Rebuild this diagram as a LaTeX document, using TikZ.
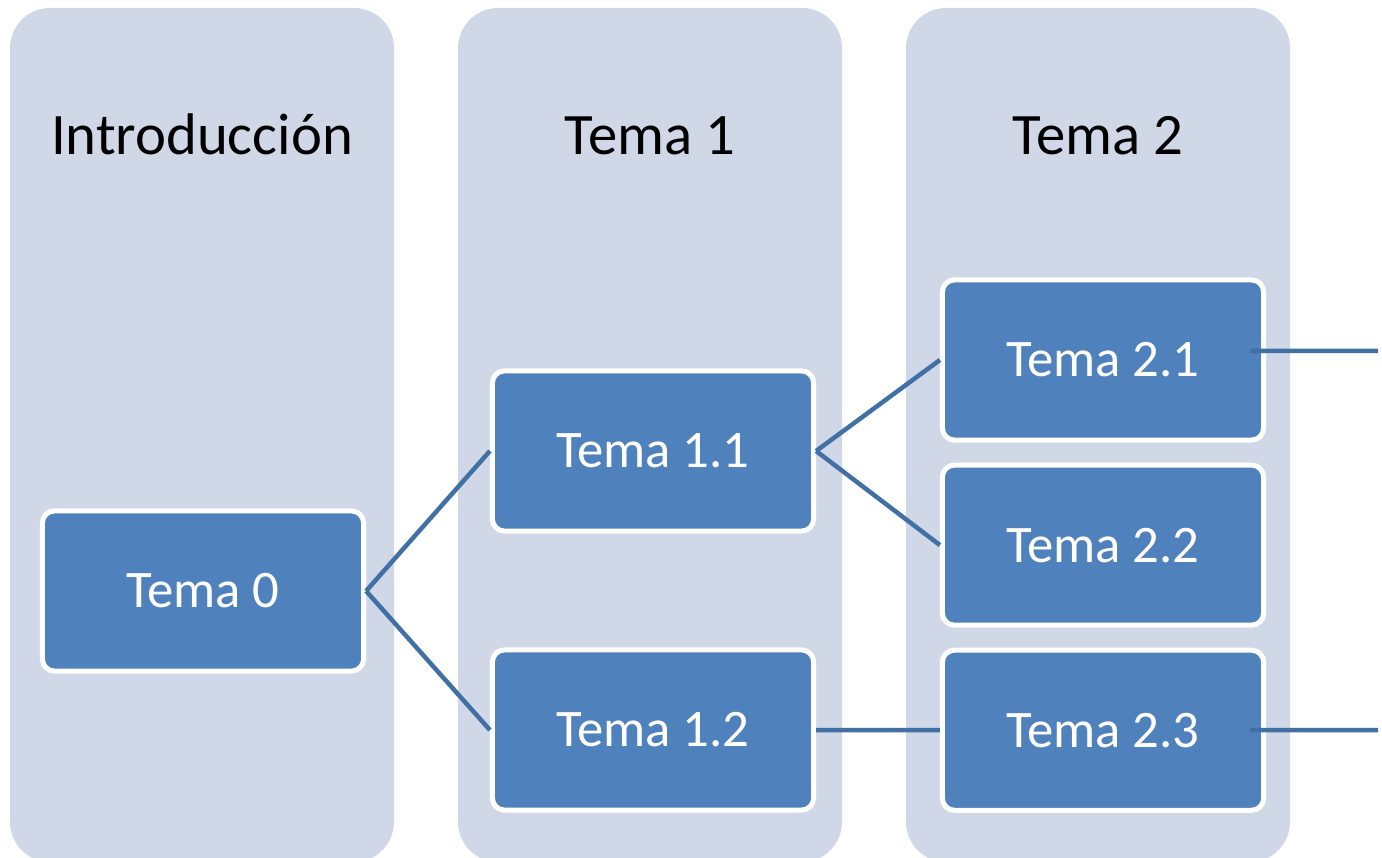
\documentclass[tikz,border=0pt]{standalone}
\usepackage{fontspec}
\setmainfont{Carlito}
\usetikzlibrary{positioning}
\definecolor{panelblue}{HTML}{D0D8E8}
\definecolor{boxblue}{HTML}{4F81BD}
\definecolor{lineblue}{HTML}{4170A4}

\begin{document}
\begin{tikzpicture}[x=0.01cm, y=-0.01cm,
	panel/.style={fill=panelblue, rounded corners=0.4cm},
	tema/.style={draw=white, line width=0.05cm, fill=boxblue, rounded corners=0.12cm,
		minimum width=3.21cm, minimum height=1.6cm, text=white, font=\fontsize{15}{18}\selectfont},
	titulo/.style={anchor=base, font=\fontsize{16.7}{20}\selectfont},
	enlace/.style={lineblue, line width=0.045cm}]
\useasboundingbox (0,0) rectangle (1382,858);
\clip (0,0) rectangle (1382,858);
% columnas
\foreach \x in {10, 458, 906}
	\fill[panel] (\x,8) rectangle (\x+384,862);
\node[titulo] (intro) at (202,155) {Introducción};
\node[titulo] (titulo1) at (650,155) {Tema 1};
\node[titulo] (titulo2) at (1098,155) {Tema 2};
% cajas
\node[tema] (t0) at (203,591) {Tema 0};
\node[tema] (t11) at (653,451) {Tema 1.1};
\node[tema] (t12) at (653,730) {Tema 1.2};
\node[tema] (t21) at (1103,360) {Tema 2.1};
\node[tema, below=0.2cm of t21] (t22) {Tema 2.2};
\node[tema, below=0.2cm of t22] (t23) {Tema 2.3};
% enlaces
\draw[enlace] (t0.east) -- (t11.west);
\draw[enlace] (t0.east) -- (t12.west);
\draw[enlace] (t11.east) -- (t21.west);
\draw[enlace] (t11.east) -- (t22.west);
\draw[enlace] (t12.east) -- (t23.west);
\coordinate (fin1) at (1378,351);
\coordinate (fin2) at (1378,730);
\draw[enlace] ([xshift=-0.16cm, yshift=0.09cm]t21.east) -- (fin1);
\draw[enlace] ([xshift=-0.16cm]t23.east) -- (fin2);
\end{tikzpicture}
\end{document}
